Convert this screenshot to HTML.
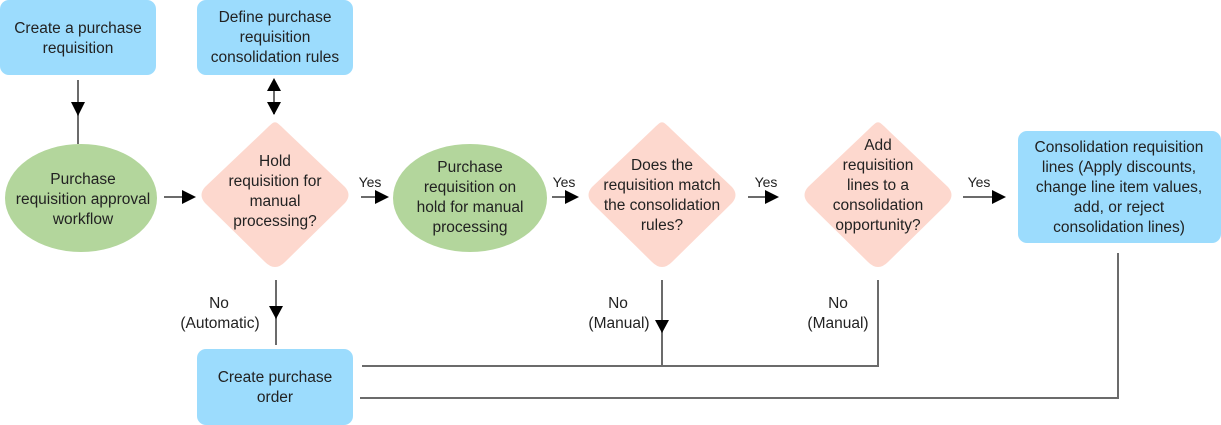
<!DOCTYPE html>
<html><head><meta charset="utf-8"><style>
html,body{margin:0;padding:0;background:#fff;width:1221px;height:425px;overflow:hidden}
text{font-family:"Liberation Sans",sans-serif;font-size:15.5px;fill:#222;text-anchor:middle}
text.y{font-size:14px}
.l{stroke:#6b6b6b;stroke-width:2;fill:none}
</style></head><body>
<svg width="1221" height="425" viewBox="0 0 1221 425" xmlns="http://www.w3.org/2000/svg">
<rect x="0" y="0" width="156" height="75" rx="9" fill="#9cdcfd"/>
<rect x="197" y="0" width="156" height="75" rx="9" fill="#9cdcfd"/>
<rect x="197" y="349" width="156" height="76" rx="9" fill="#9cdcfd"/>
<rect x="1018" y="131" width="203" height="112" rx="9" fill="#9cdcfd"/>
<ellipse cx="81" cy="198" rx="76" ry="54" fill="#b3d69c"/>
<ellipse cx="470" cy="198" rx="77" ry="54" fill="#b3d69c"/>
<path d="M275,123 Q275,120 285,130 L345,187 Q352,195 345,203 L285,262 Q275,272 265,262 L205,203 Q198,195 205,187 L265,130 Q275,120 275,123z" fill="#fdd8ce"/>
<path d="M662,123 Q662,120 672,130 L732,187 Q739,195 732,203 L672,262 Q662,272 652,262 L592,203 Q585,195 592,187 L652,130 Q662,120 662,123z" fill="#fdd8ce"/>
<path d="M878,123 Q878,120 888,130 L948,187 Q955,195 948,203 L888,262 Q878,272 868,262 L808,203 Q801,195 808,187 L868,130 Q878,120 878,123z" fill="#fdd8ce"/>
<line class="l" x1="78" y1="80" x2="78" y2="144"/>
<path d="M71,102 L85,102 L78,116 z" fill="#000"/>
<line class="l" x1="274" y1="80" x2="274" y2="114"/>
<path d="M267,91 L281,91 L274,78 z" fill="#000"/>
<path d="M267,102 L281,102 L274,115 z" fill="#000"/>
<line class="l" x1="164" y1="197" x2="185" y2="197"/>
<path d="M182,190 L196,197 L182,204 z" fill="#000"/>
<line class="l" x1="361" y1="197" x2="378" y2="197"/>
<path d="M375,190 L389,197 L375,204 z" fill="#000"/>
<line class="l" x1="552" y1="197" x2="568" y2="197"/>
<path d="M565,190 L579,197 L565,204 z" fill="#000"/>
<line class="l" x1="748" y1="197" x2="768" y2="197"/>
<path d="M765,190 L779,197 L765,204 z" fill="#000"/>
<line class="l" x1="963" y1="197" x2="995" y2="197"/>
<path d="M992,190 L1006,197 L992,204 z" fill="#000"/>
<line class="l" x1="276" y1="280" x2="276" y2="345"/>
<path d="M269,306 L283,306 L276,319 z" fill="#000"/>
<polyline class="l" points="662,280 662,366 362,366"/>
<path d="M655,320 L669,320 L662,333 z" fill="#000"/>
<polyline class="l" points="878,280 878,366 662,366"/>
<polyline class="l" points="1118,253 1118,398 360,398"/>
<text x="78" y="33">Create a purchase</text>
<text x="78" y="53">requisition</text>
<text x="275" y="22">Define purchase</text>
<text x="275" y="42">requisition</text>
<text x="275" y="62">consolidation rules</text>
<text x="83" y="184">Purchase</text>
<text x="83" y="204">requisition approval</text>
<text x="83" y="224">workflow</text>
<text x="275" y="166">Hold</text>
<text x="275" y="186">requisition for</text>
<text x="275" y="206">manual</text>
<text x="275" y="226">processing?</text>
<text x="470" y="172">Purchase</text>
<text x="470" y="192">requisition on</text>
<text x="470" y="212">hold for manual</text>
<text x="470" y="232">processing</text>
<text x="662" y="170">Does the</text>
<text x="662" y="190">requisition match</text>
<text x="662" y="210">the consolidation</text>
<text x="662" y="230">rules?</text>
<text x="878" y="150">Add</text>
<text x="878" y="170">requisition</text>
<text x="878" y="190">lines to a</text>
<text x="878" y="210">consolidation</text>
<text x="878" y="230">opportunity?</text>
<text x="1119" y="152">Consolidation requisition</text>
<text x="1119" y="172">lines (Apply discounts,</text>
<text x="1119" y="192">change line item values,</text>
<text x="1119" y="212">add, or reject</text>
<text x="1119" y="232">consolidation lines)</text>
<text x="275" y="382">Create purchase</text>
<text x="275" y="402">order</text>
<text class="y" x="370" y="187">Yes</text>
<text class="y" x="564" y="187">Yes</text>
<text class="y" x="766" y="187">Yes</text>
<text class="y" x="979" y="187">Yes</text>
<text x="219" y="308">No</text>
<text x="220" y="328">(Automatic)</text>
<text x="618" y="308">No</text>
<text x="619" y="328">(Manual)</text>
<text x="838" y="308">No</text>
<text x="838" y="328">(Manual)</text>
</svg>
</body></html>
